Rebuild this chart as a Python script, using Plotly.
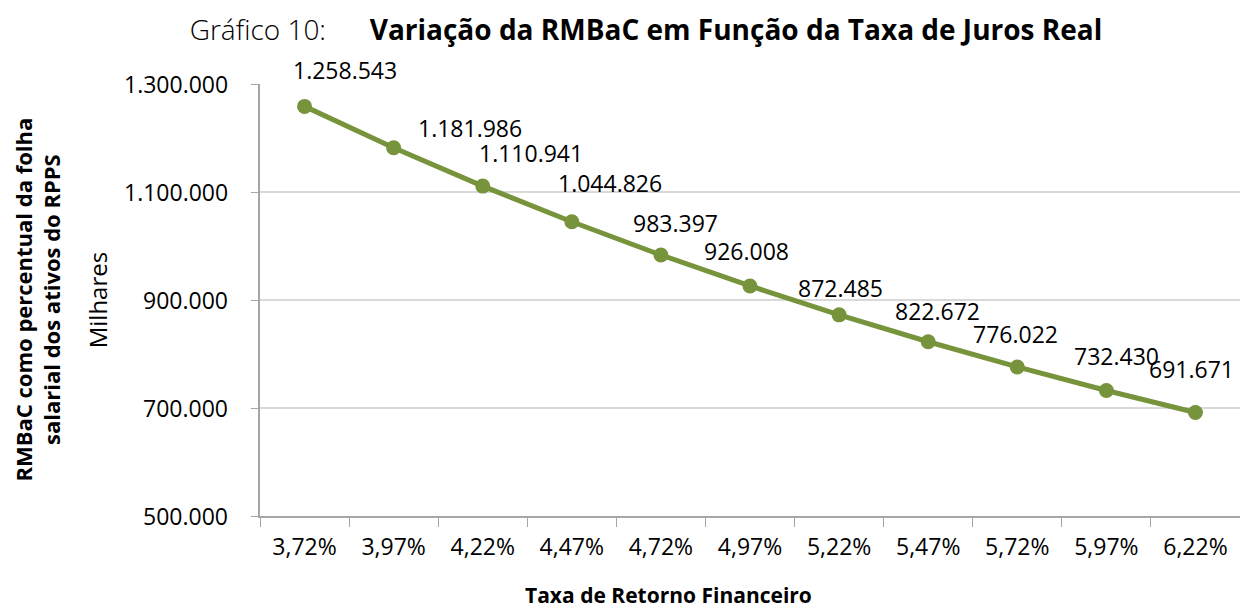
import plotly.graph_objects as go

categories = ["3,72%", "3,97%", "4,22%", "4,47%", "4,72%", "4,97%", "5,22%", "5,47%", "5,72%", "5,97%", "6,22%"]
values = [1258543, 1181986, 1110941, 1044826, 983397, 926008, 872485, 822672, 776022, 732430, 691671]
label_texts = ["1.258.543", "1.181.986", "1.110.941", "1.044.826", "983.397", "926.008",
               "872.485", "822.672", "776.022", "732.430", "691.671"]
y_ticks = [500000, 700000, 900000, 1100000, 1300000]
y_tick_labels = ["500.000", "700.000", "900.000", "1.100.000", "1.300.000"]

# label offsets (pixels) relative to points
label_dx = [40, 76, 48, 38, 15, -4, 1, 9, -2, 10, -4]
label_dy = [36, 20, 33, 39, 32, 35, 27, 31, 33, 34, 44]

FONT = "Open Sans"
GREEN = "#77933C"

fig = go.Figure()
fig.add_trace(go.Scatter(
    x=categories, y=values, mode="lines+markers",
    line=dict(color=GREEN, width=5),
    marker=dict(color=GREEN, size=15),
    hoverinfo="skip", showlegend=False,
))

for c, v, t, dx, dy in zip(categories, values, label_texts, label_dx, label_dy):
    fig.add_annotation(x=c, y=v, text=t, showarrow=False, xshift=dx, yshift=dy,
                       font=dict(family=FONT, size=23, color="#000000"))

# y tick labels placed as annotations on the y scale (for a wider standoff)
for v, t in zip(y_ticks, y_tick_labels):
    fig.add_annotation(xref="paper", yref="y", x=0, y=v, text=t, showarrow=False,
                       xanchor="right", yanchor="middle", xshift=-30,
                       font=dict(family=FONT, size=23, color="#000000"))

fig.add_annotation(
    xref="paper", yref="paper", x=-0.228, y=0.5, xanchor="center", yanchor="middle",
    text="<b>RMBaC como percentual da folha<br>salarial dos ativos do RPPS</b>",
    textangle=-90, showarrow=False, font=dict(family=FONT, size=22, color="#000000"),
    align="center")
fig.add_annotation(
    xref="paper", yref="paper", x=-0.166, y=0.5, xanchor="center", yanchor="middle",
    text="Milhares",
    textangle=-90, showarrow=False, font=dict(family=FONT, size=24, color="#000000"))

fig.add_annotation(
    xref="paper", yref="paper", x=0.417, y=-0.182, yanchor="middle",
    text="<b>Taxa de Retorno Financeiro</b>", showarrow=False, borderpad=0,
    font=dict(family=FONT, size=21, color="#000000"))

fig.update_layout(
    width=1240, height=602,
    margin=dict(l=252, r=8, t=76, b=94),
    paper_bgcolor="white", plot_bgcolor="white",
    title=dict(
        text="<span style='font-weight:300'>Gráfico 10:</span>&nbsp;&nbsp;&nbsp;&nbsp;&nbsp;&nbsp;<b>Variação da RMBaC em Função da Taxa de Juros Real</b>",
        x=0.5145, xanchor="center", y=0.963, yanchor="middle",
        font=dict(family=FONT, size=28, color="#000000")),
    xaxis=dict(
        type="category", showgrid=False, showline=True, linecolor="#A6A6A6", linewidth=1.5,
        ticks="outside", tickson="boundaries", ticklen=9, tickcolor="#A6A6A6",
        tickfont=dict(family=FONT, size=23, color="#000000"), ticklabelstandoff=10,
        range=[-0.5, 10.5]),
    yaxis=dict(
        range=[500000, 1300000], tickvals=y_ticks, showticklabels=False,
        showgrid=True, gridcolor="#D9D9D9", gridwidth=1.5,
        showline=True, linecolor="#A6A6A6", linewidth=1.5,
        ticks="outside", ticklen=7, tickcolor="#A6A6A6", zeroline=False),
)

fig.write_html("out.html")
